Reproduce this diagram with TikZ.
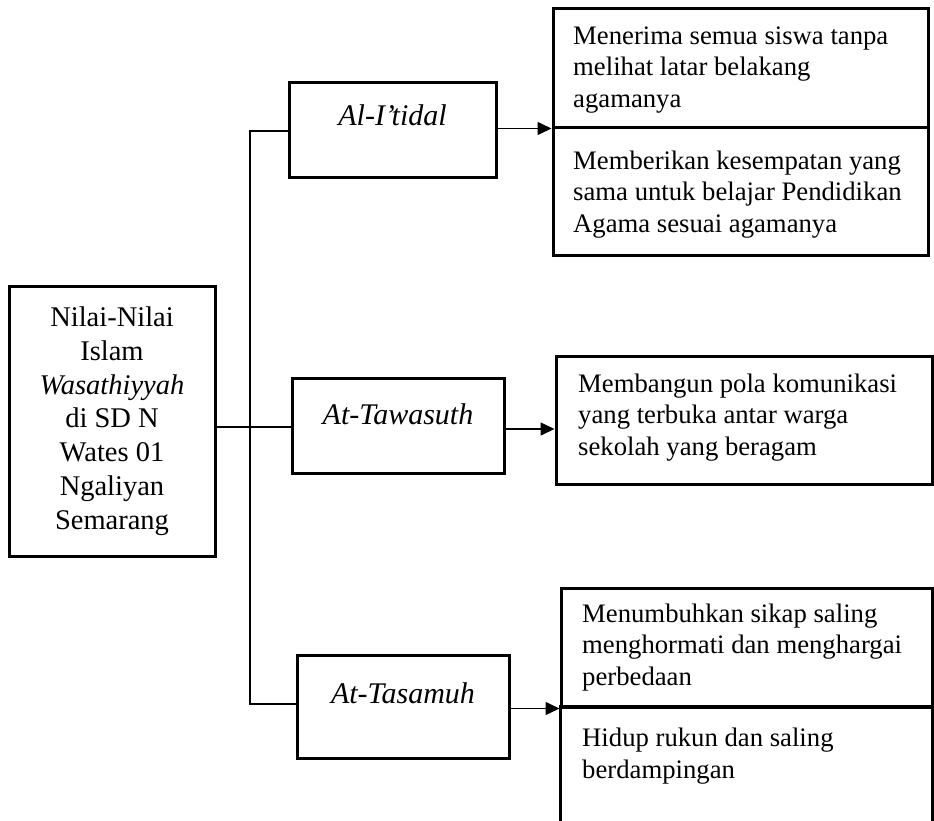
\documentclass[tikz,border=0pt]{standalone}
\usepackage{fontspec}
\setmainfont{Liberation Serif}
\usetikzlibrary{arrows.meta}
\begin{document}
\begin{tikzpicture}[x=1pt,y=-1pt,
  boxline/.style={draw, line width=3pt, inner sep=0pt},
  conn/.style={line width=1.5pt},
  arr/.style={conn, -{Triangle[length=14pt,width=13pt]}},
  lbl/.style={font=\fontsize{30}{34}\selectfont\itshape, inner sep=0pt, anchor=base},
  txt/.style={font=\fontsize{26.7}{31.5}\selectfont, align=left, inner sep=0pt, anchor=base west}]
\useasboundingbox (0,0) rectangle (934,820);

% left main box
\node[boxline, minimum width=206pt, minimum height=270pt, align=center,
      font=\fontsize{28.5}{33.8}\selectfont] (main) at (112,421)
  {Nilai-Nilai\\Islam\\\textit{Wasathiyyah}\\di SD N\\Wates 01\\Ngaliyan\\Semarang};

% middle boxes
\node[boxline, minimum width=207pt, minimum height=95pt] (itidal) at (392.5,129.5) {};
\node[lbl] (itidalT) at (392.5,125) {Al-I’tidal};
\node[boxline, minimum width=212pt, minimum height=95pt] (tawa) at (398,425.5) {};
\node[lbl] (tawaT) at (398,424) {At-Tawasuth};
\node[boxline, minimum width=212pt, minimum height=103pt] (tasa) at (403,706.5) {};
\node[lbl] (tasaT) at (403,703) {At-Tasamuh};

% right boxes
\node[boxline, minimum width=375pt, minimum height=119pt] (r1a) at (740.5,67.5) {};
\node[boxline, minimum width=375pt, minimum height=128pt] (r1b) at (740.5,191) {};
\node[boxline, minimum width=376pt, minimum height=128pt] (r2) at (744,420) {};
\node[boxline, minimum width=371pt, minimum height=119pt] (r3a) at (746.5,647.5) {};
\node[inner sep=0pt, minimum width=371pt, minimum height=116pt] (r3b) at (746.5,765) {};
\draw[line width=3pt] (r3b.south west) -- (r3b.north west) -- (r3b.north east) -- (r3b.south east);

% multi-line texts: anchored at the baseline of their last line
\node[txt] (t1a) at (573,107) {Menerima semua siswa tanpa\\melihat latar belakang\\agamanya};
\node[txt] (t1b) at (573,232) {Memberikan kesempatan yang\\sama untuk belajar Pendidikan\\Agama sesuai agamanya};
\node[txt] (t2) at (578,455) {Membangun pola komunikasi\\yang terbuka antar warga\\sekolah yang beragam};
\node[txt] (t3a) at (582,685) {Menumbuhkan sikap saling\\menghormati dan menghargai\\perbedaan};
\node[txt] (t3b) at (582,778) {Hidup rukun dan saling\\berdampingan};

% connectors
\coordinate (vtop) at (250,131);
\coordinate (vmid) at (250,427);
\coordinate (vbot) at (250,704);
\coordinate (a2) at (0,429);
\draw[conn] (vtop -| itidal.west) -- (vtop) -- (vbot) -- (vbot -| tasa.west);
\draw[conn] (vmid -| main.east) -- (vmid -| tawa.west);
\draw[arr] (itidal.east |- r1a.south west) -- (r1a.south west);
\draw[arr] (tawa.east |- a2) -- (r2.west |- a2);
\draw[arr] (tasa.east |- r3a.south west) -- (r3a.south west);
\end{tikzpicture}
\end{document}
